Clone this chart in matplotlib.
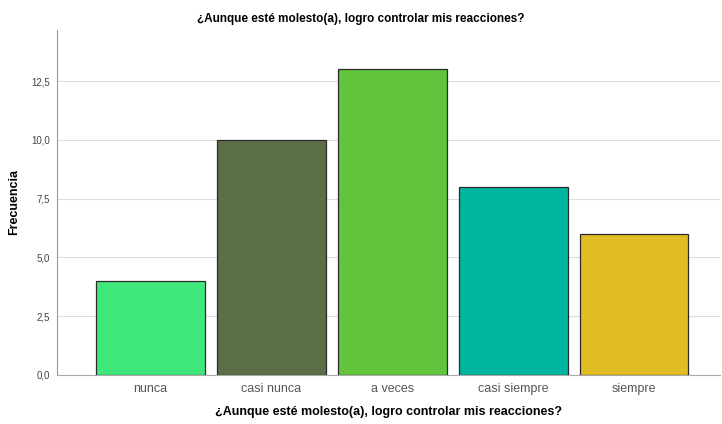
import matplotlib
matplotlib.use("Agg")
import matplotlib.pyplot as plt
from matplotlib.ticker import FuncFormatter

categories = ["nunca", "casi nunca", "a veces", "casi siempre", "siempre"]
frecuencia = [4, 10, 13, 8, 6]
colors = ["#40E87C", "#5B6E47", "#62C43C", "#00B5A0", "#E1BC22"]
title = "¿Aunque esté molesto(a), logro controlar mis reacciones?"

plt.rcParams["font.family"] = ["Liberation Sans", "DejaVu Sans"]

fig = plt.figure(figsize=(7.22, 4.24), dpi=100)
ax = fig.add_axes([0.079, 0.116, 0.918, 0.813])

x = range(len(categories))
ax.bar(x, frecuencia, width=0.9, color=colors, edgecolor="#2b2b2b", linewidth=0.9, zorder=3)

ax.set_xlim(-0.773, 4.71)
ax.set_ylim(0, 14.67)
ax.set_yticks([0, 2.5, 5, 7.5, 10, 12.5])
ax.yaxis.set_major_formatter(FuncFormatter(lambda v, p: f"{v:.1f}".replace(".", ",")))
ax.set_xticks(list(x))
ax.set_xticklabels(categories, fontsize=9, color="#555555")
ax.tick_params(axis="y", labelsize=7, colors="#444444", length=0, pad=5)
ax.tick_params(axis="x", length=0, pad=6)

ax.grid(axis="y", color="#dddddd", linewidth=0.8, zorder=0)
for s in ["top", "right"]:
    ax.spines[s].set_visible(False)
ax.spines["left"].set_color("#999999")
ax.spines["bottom"].set_color("#aaaaaa")

ax.set_ylabel("Frecuencia", fontsize=9, fontweight="bold", labelpad=8)
ax.set_xlabel(title, fontsize=9, fontweight="bold", labelpad=8)
fig.text(0.5, 0.955, title, ha="center", va="center", fontsize=8.5, fontweight="bold")

fig.savefig("out.png", dpi=100)
